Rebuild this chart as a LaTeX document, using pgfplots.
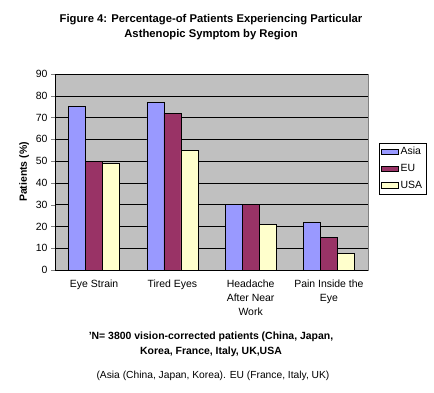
\documentclass[border=0pt]{standalone}
\usepackage{pgfplots}
\pgfplotsset{compat=1.18}
\usepackage{fontspec}
\setmainfont{Liberation Sans}
\definecolor{asia}{HTML}{9999FF}
\definecolor{eu}{HTML}{993366}
\definecolor{usa}{HTML}{FFFFCC}
\definecolor{plotbg}{HTML}{C0C0C0}
\begin{document}
\begin{tikzpicture}[x=1bp,y=1bp]
\useasboundingbox (0,0) rectangle (434,392);
\begin{axis}[
  at={(55bp,122bp)}, anchor=south west,
  scale only axis, width=313bp, height=196bp,
  ybar=0pt, bar width=17bp,
  xmin=-0.5, xmax=3.5, ymin=0, ymax=90,
  ytick={0,10,...,90},
  xtick={0,1,2,3},
  xticklabels={Eye Strain,Tired Eyes,{Headache\\After Near\\Work},{Pain Inside the\\Eye}},
  xticklabel style={align=center, font=\fontsize{10.5}{14.5}\selectfont, yshift=-2bp},
  major x tick style={draw=none},
  extra x ticks={-0.5,0.5,1.5,2.5,3.5},
  extra x tick labels={},
  extra x tick style={major tick length=4bp, tick style={black}, grid=none, tickwidth=4bp},
  axis x line*=bottom, axis y line*=left,
  axis line style={black, thin, -},
  tick align=outside,
  major tick length=4bp,
  ymajorgrids, major grid style={black, thin},
  axis background/.style={fill=plotbg, draw=gray},
  yticklabel style={font=\fontsize{10.5}{12}\selectfont},
  /pgf/number format/assume math mode=true,
  ylabel={\bfseries Patients (\%)},
  ylabel style={font=\fontsize{10.5}{12}\selectfont, yshift=0bp},
  legend style={at={(1.035,0.648)}, anchor=north west, draw=black, fill=white,
    font=\fontsize{10.5}{12}\selectfont, row sep=4bp, inner sep=2bp},
  legend cell align=left,
  area legend,
  every axis plot/.append style={draw=black, thin},
]
\addplot[fill=asia] coordinates {(0,75) (1,77) (2,30) (3,22)};
\addplot[fill=eu] coordinates {(0,50) (1,72) (2,30) (3,15)};
\addplot[fill=usa] coordinates {(0,49) (1,55) (2,21) (3,7.5)};
\legend{Asia,EU,USA}
\end{axis}
\node[align=center, font=\bfseries\fontsize{11.3}{15}\selectfont] at (211,365) {Figure 4: Percentage-of Patients Experiencing Particular\\Asthenopic Symptom by Region};
\node[align=center, font=\bfseries\fontsize{10.5}{15}\selectfont] at (211,48) {'N= 3800 vision-corrected patients (China, Japan,\\Korea, France, Italy, UK,USA};
\node[font=\fontsize{10.3}{12}\selectfont] at (213,16) {(Asia (China, Japan, Korea). EU (France, Italy, UK)};
\end{tikzpicture}
\end{document}
